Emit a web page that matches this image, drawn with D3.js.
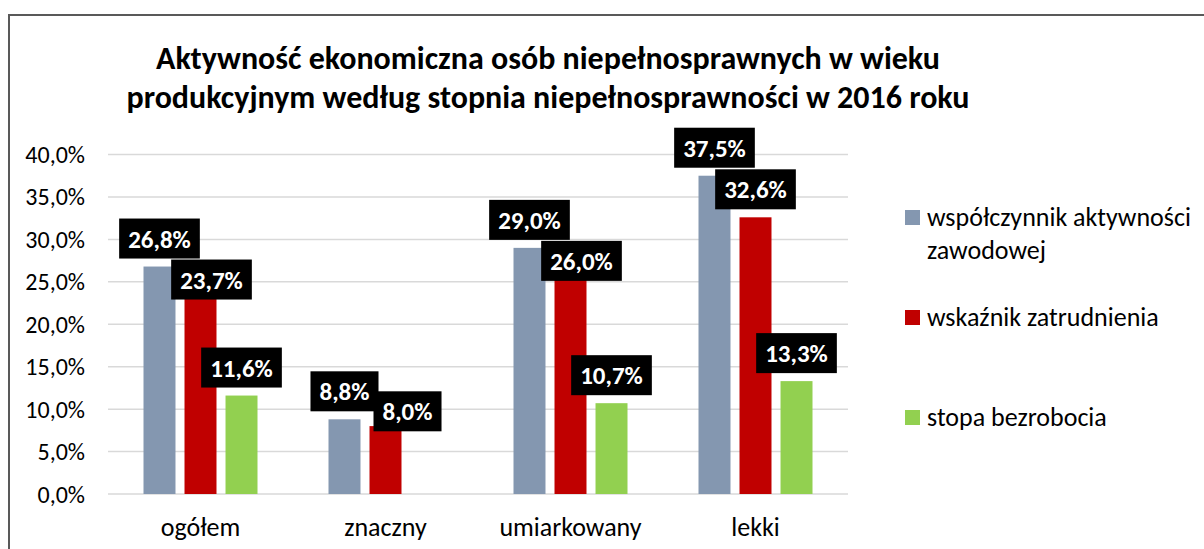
<!DOCTYPE html>
<html>
<head>
<meta charset="utf-8">
<script src="https://cdn.jsdelivr.net/npm/d3@7"></script>
<style>
  body { margin: 0; background: #fff; }
  svg { display: block; font-family: Carlito, Calibri, Lato, sans-serif; }
</style>
</head>
<body>
<div id="chart"></div>
<script>
var categories = ['ogółem', 'znaczny', 'umiarkowany', 'lekki'];
var seriesNames = ['współczynnik aktywności zawodowej', 'wskaźnik zatrudnienia', 'stopa bezrobocia'];
var aktywnosc = [26.8, 8.8, 29.0, 37.5];
var zatrudnienie = [23.7, 8.0, 26.0, 32.6];
var bezrobocie = [11.6, null, 10.7, 13.3];
var yTicks = [0, 5, 10, 15, 20, 25, 30, 35, 40];
var titleLines = ['Aktywność ekonomiczna osób niepełnosprawnych w wieku',
                  'produkcyjnym według stopnia niepełnosprawności w 2016 roku'];
var legendLines = [['współczynnik aktywności', 'zawodowej'], ['wskaźnik zatrudnienia'], ['stopa bezrobocia']];

var W = 1204, H = 549;
var colors = ['#8497B0', '#C00000', '#92D050'];
var values = [aktywnosc, zatrudnienie, bezrobocie];

var svg = d3.select('#chart').append('svg')
  .attr('width', W).attr('height', H);

// chart frame (runs off the right and bottom edge)
svg.append('rect')
  .attr('x', 9).attr('y', 15)
  .attr('width', W + 20).attr('height', H + 20)
  .attr('fill', 'none')
  .attr('stroke', '#595959')
  .attr('stroke-width', 2);

// title
svg.append('g').selectAll('text')
  .data(titleLines)
  .enter().append('text')
  .attr('x', 548)
  .attr('y', function(d, i) { return 69 + i * 39; })
  .attr('text-anchor', 'middle')
  .attr('font-weight', 'bold')
  .attr('font-size', 32)
  .attr('fill', '#000')
  .text(function(d) { return d; });

var x0 = d3.scaleBand().domain(categories).range([108, 848]);
var x1 = d3.scaleBand().domain(d3.range(3)).range([0, 114]).paddingInner(0.22);
var groupOffset = (x0.bandwidth() - 114) / 2;
var y = d3.scaleLinear().domain([0, 40]).range([494, 154.5]);

// grid
svg.append('g').selectAll('line')
  .data(yTicks)
  .enter().append('line')
  .attr('x1', 108).attr('x2', 848)
  .attr('y1', function(d) { return y(d); })
  .attr('y2', function(d) { return y(d); })
  .attr('stroke', '#D9D9D9')
  .attr('stroke-width', 1.5);

// y tick labels
svg.append('g').selectAll('text')
  .data(yTicks)
  .enter().append('text')
  .attr('x', 85)
  .attr('y', function(d) { return y(d) + 8.5; })
  .attr('text-anchor', 'end')
  .attr('font-size', 24)
  .attr('fill', '#000')
  .text(function(d) { return d.toFixed(1).replace('.', ',') + '%'; });

// category labels
svg.append('g').selectAll('text')
  .data(categories)
  .enter().append('text')
  .attr('x', function(d) { return x0(d) + x0.bandwidth() / 2; })
  .attr('y', 536)
  .attr('text-anchor', 'middle')
  .attr('font-size', 26)
  .attr('fill', '#000')
  .text(function(d) { return d; });

// bars
var bars = [];
categories.forEach(function(c, ci) {
  values.forEach(function(vals, si) {
    if (vals[ci] == null) return;
    bars.push({cat: c, ci: ci, si: si, value: vals[ci]});
  });
});

svg.append('g').selectAll('rect')
  .data(bars)
  .enter().append('rect')
  .attr('x', function(d) { return x0(d.cat) + groupOffset + x1(d.si); })
  .attr('y', function(d) { return y(d.value); })
  .attr('width', x1.bandwidth())
  .attr('height', function(d) { return y(0) - y(d.value); })
  .attr('fill', function(d) { return colors[d.si]; });

// data labels: black boxes above bars, nudged when they collide
var labelG = svg.append('g');
var boxH = 40;
var prev = null;
bars.forEach(function(d) {
  var g = labelG.append('g');
  var txt = g.append('text')
    .attr('text-anchor', 'middle')
    .attr('font-weight', 'bold')
    .attr('font-size', 25)
    .attr('fill', '#fff')
    .text(d.value.toFixed(1).replace('.', ',') + '%');
  var bw = txt.node().getComputedTextLength() + 18;
  var cx = x0(d.cat) + groupOffset + x1(d.si) + x1.bandwidth() / 2;
  var barTop = y(d.value);
  var box = {x: cx - bw / 2, y: barTop - 8 - boxH, w: bw, h: boxH};
  if (prev && prev.ci === d.ci &&
      box.x < prev.x + prev.w && box.x + box.w > prev.x &&
      box.y < prev.y + prev.h && box.y + box.h > prev.y) {
    if (prev.y + prev.h + 1 + boxH <= barTop + 10) {
      box.y = prev.y + prev.h + 1;
      box.x = cx - bw / 2 + 11;
    } else {
      box.y = prev.y + boxH / 2;
      box.x = prev.x + prev.w - 5;
    }
  }
  g.insert('rect', 'text')
    .attr('x', box.x).attr('y', box.y)
    .attr('width', box.w).attr('height', box.h)
    .attr('fill', '#000');
  txt.attr('x', box.x + box.w / 2).attr('y', box.y + box.h / 2 + 9);
  box.ci = d.ci;
  prev = box;
});

// legend
var legendY = [210, 310, 410];
var legend = svg.append('g').selectAll('g')
  .data(seriesNames)
  .enter().append('g')
  .attr('transform', function(d, i) { return 'translate(905,' + legendY[i] + ')'; });

legend.append('rect')
  .attr('width', 15).attr('height', 15)
  .attr('fill', function(d, i) { return colors[i]; });

legend.each(function(d, i) {
  d3.select(this).selectAll('text')
    .data(legendLines[i])
    .enter().append('text')
    .attr('x', 22)
    .attr('y', function(t, j) { return 16 + j * 33; })
    .attr('font-size', 26)
    .attr('fill', '#000')
    .text(function(t) { return t; });
});
</script>
</body>
</html>
